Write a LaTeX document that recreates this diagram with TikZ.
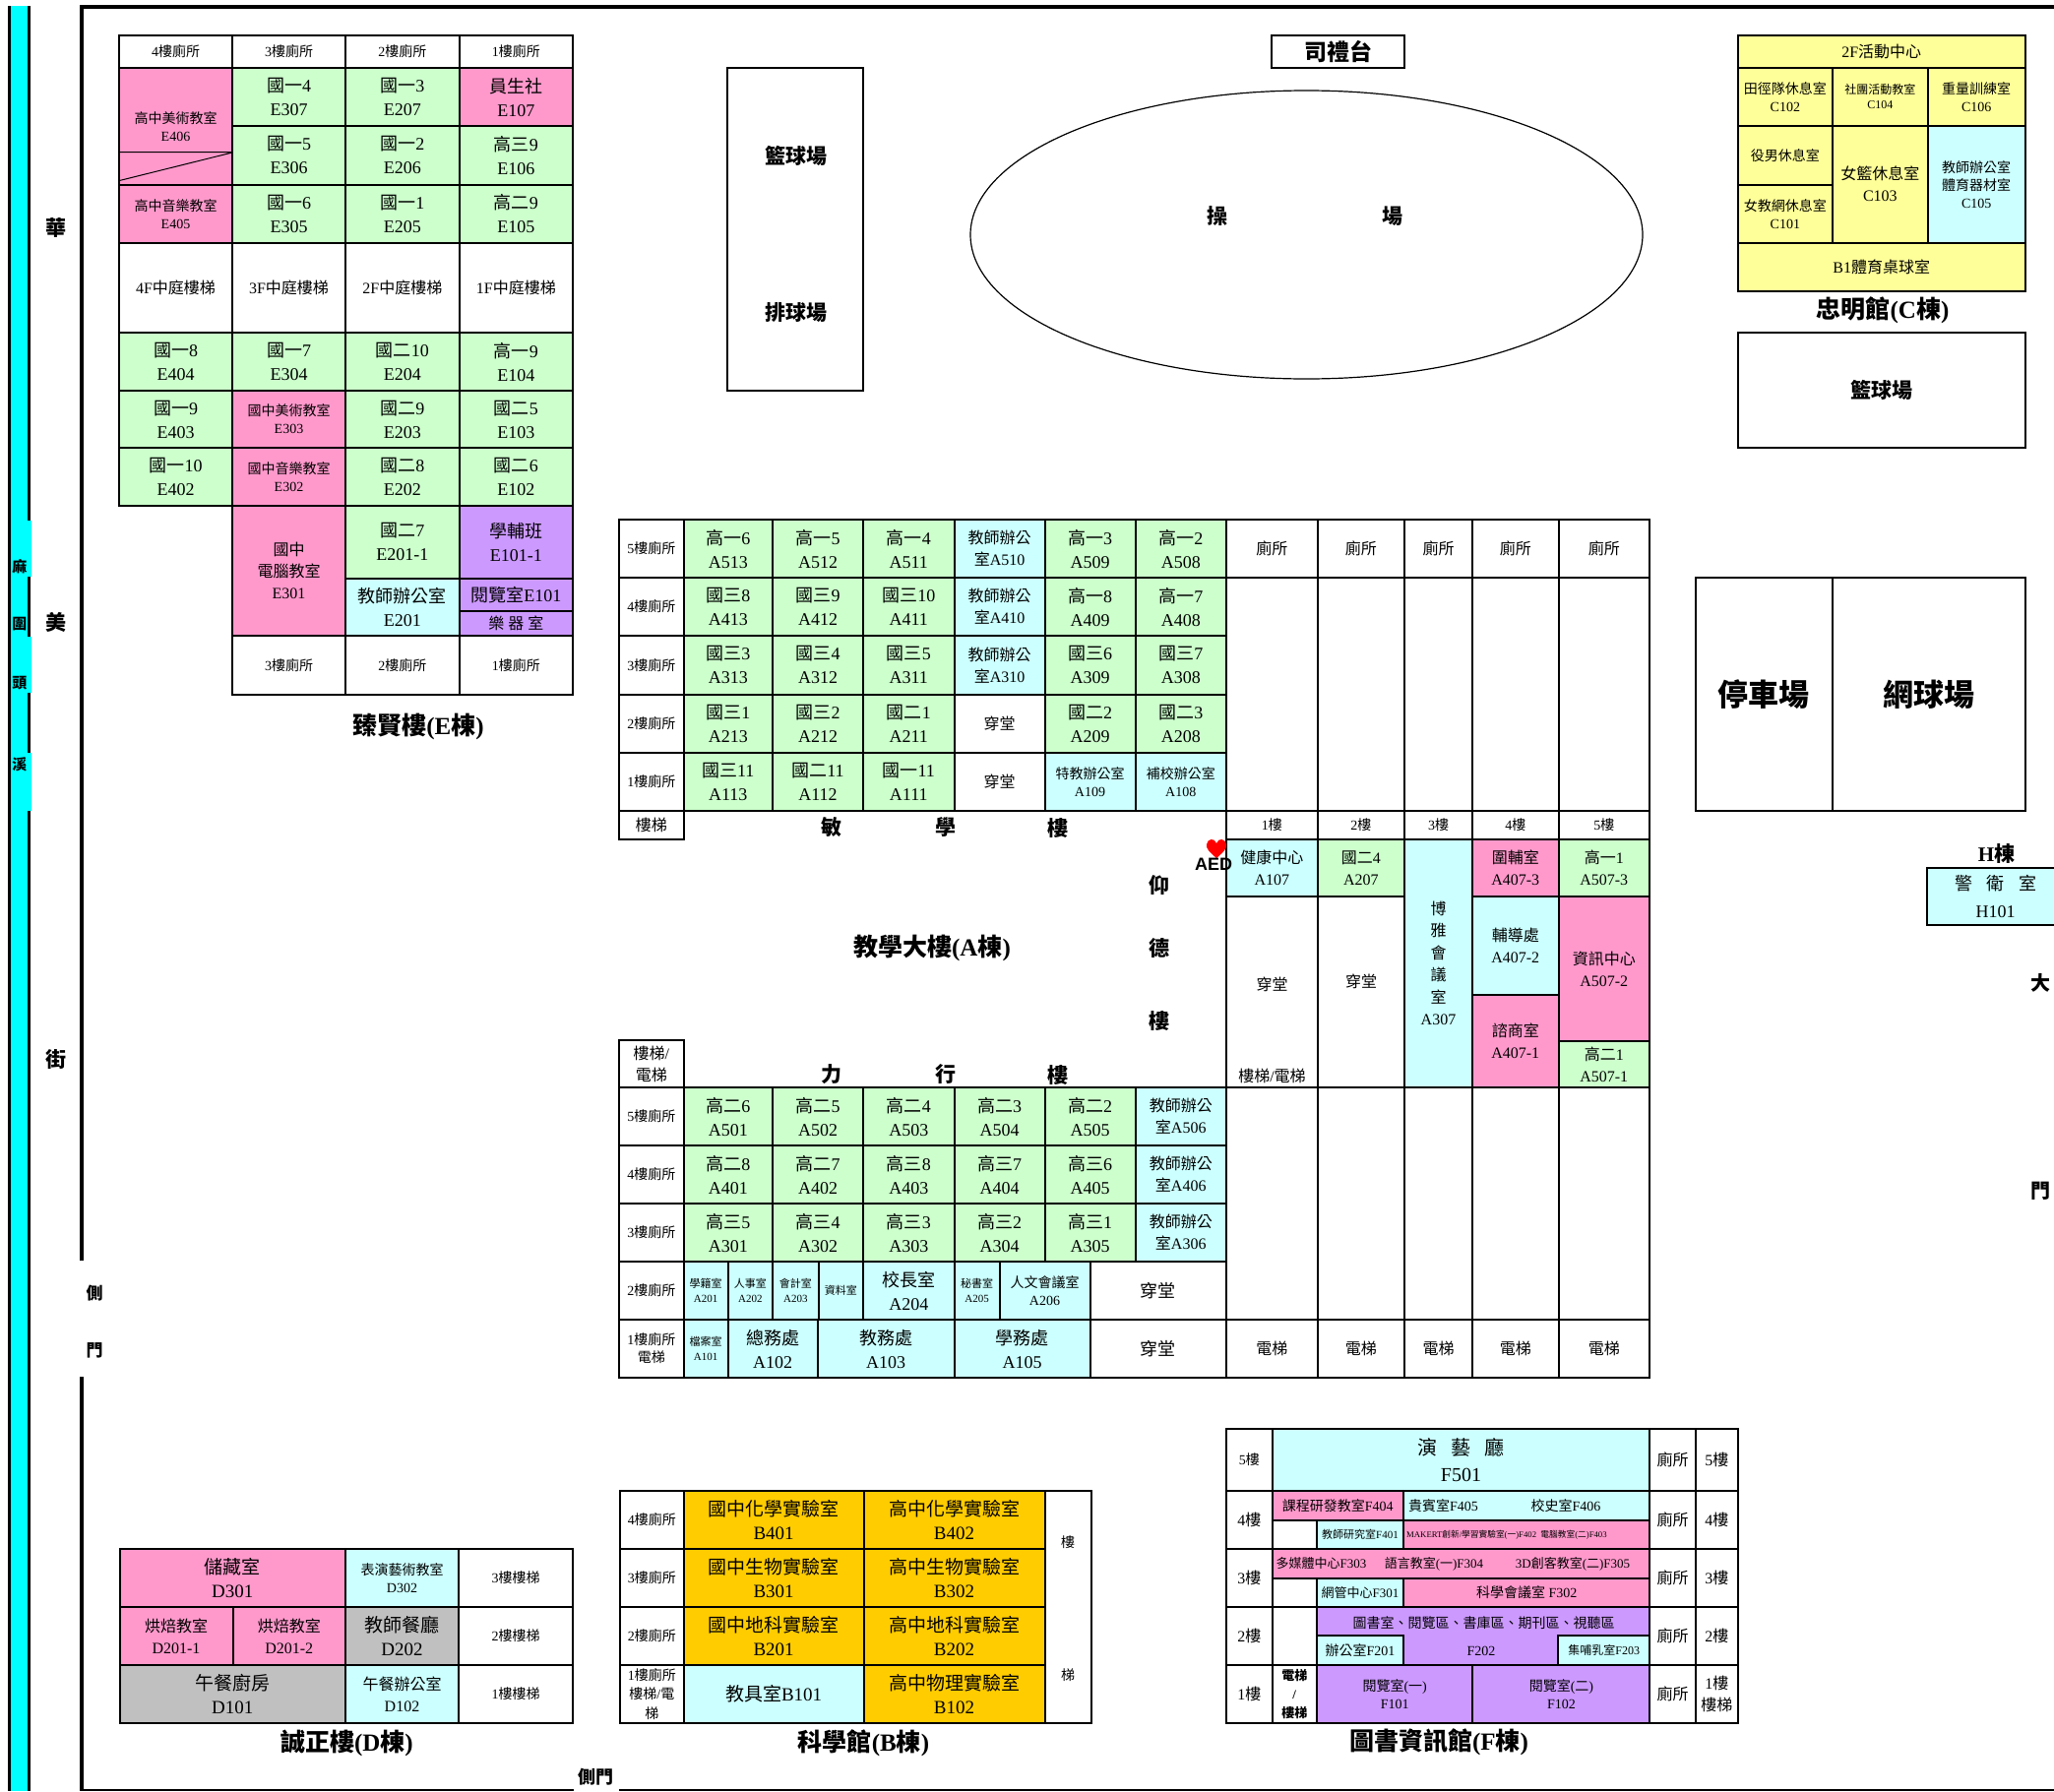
\documentclass[tikz,border=0pt]{standalone}
\usepackage{fontspec}
\usetikzlibrary{shapes.geometric}
\setmainfont{Liberation Serif}
\newfontfamily\cjk{Noto Sans CJK TC}
\newfontfamily\aedfont{Liberation Sans}
% han characters take the cjk family, all others stay in the main one
\makeatletter
\chardef\hanclass=10
\count@="2E80
\loop\ifnum\count@<"A000 \XeTeXcharclass\count@=\hanclass \advance\count@ by 1 \repeat
\makeatother
\XeTeXinterchartoks 0 \hanclass={\cjk}
\XeTeXinterchartoks 4095 \hanclass={\cjk}
\XeTeXinterchartoks \hanclass 0={\rmfamily}
\XeTeXinterchartoks \hanclass 4095={\rmfamily}
\XeTeXinterchartokenstate=1

\definecolor{stream}{HTML}{00FFFF}
\definecolor{roomgreen}{HTML}{CCFFCC}
\definecolor{roomcyan}{HTML}{CCFFFF}
\definecolor{roompink}{HTML}{FF99CC}
\definecolor{roompurple}{HTML}{CC99FF}
\definecolor{roomyellow}{HTML}{FFFF99}
\definecolor{roomorange}{HTML}{FFCC00}
\definecolor{roomgray}{HTML}{C0C0C0}

\tikzset{
    room/.style = {draw, line width = 2pt, fill = white, inner sep = 0pt, outer sep = 0pt, align = center},
    gr/.style = {fill = roomgreen},
    cy/.style = {fill = roomcyan},
    pk/.style = {fill = roompink},
    pu/.style = {fill = roompurple},
    ye/.style = {fill = roomyellow},
    og/.style = {fill = roomorange},
    gy/.style = {fill = roomgray},
    fa/.style = {font = \fontsize{18}{24}\selectfont},
    fb/.style = {font = \fontsize{16}{22}\selectfont},
    fc/.style = {font = \fontsize{14}{18}\selectfont},
    fd/.style = {font = \fontsize{12}{15}\selectfont},
    fe/.style = {font = \fontsize{11}{15}\selectfont},
    fg/.style = {font = \fontsize{19}{24}\selectfont},
    tag/.style = {inner sep = 0pt, align = center},
    titletag/.style = {tag, font = \fontsize{25}{30}\selectfont\bfseries},
    wing/.style = {tag, font = \fontsize{21}{26}\selectfont\bfseries},
    street/.style = {tag, font = \fontsize{17}{20}\selectfont\bfseries},
    wall/.style = {line width = 4pt}
}

% name, x0, y0, x1, y1, styles, text
\newcommand{\room}[7]{
    \node [room, style/.expand once = {#6}, minimum width = {(#4-(#2))*1pt}, minimum height = {(#5-(#3))*1pt}] (#1) at ({(#2+#4)/2}, {(#3+#5)/2}) {#7};
}
% y0, y1, then name/x0/x1/styles/text
\newcommand{\roomrow}[3]{
    \foreach \nm/\xa/\xb/\rs/\txt in {#3} {\room{\nm}{\xa}{#1}{\xb}{#2}{\rs}{\txt}}
}

\begin{document}
\begin{tikzpicture}[x = 1pt, y = -1pt]
    \useasboundingbox (0, 0) rectangle (2087, 1820);

    % stream and walls
    \fill [stream] (10, 6) rectangle (29, 1820);
    \fill [stream] (28, 529) rectangle (32, 586) (28, 647) rectangle (32, 704) (28, 765) rectangle (32, 824);
    \draw [line width = 3pt] (9, 6) -- (9, 1820);
    \draw [line width = 3pt] (29.5, 6) -- (29.5, 529) (29.5, 586) -- (29.5, 647) (29.5, 704) -- (29.5, 765) (29.5, 824) -- (29.5, 1820);
    \draw [wall] (83, 1281) -- (83, 7) -- (2087, 7);
    \draw [wall] (83, 1399) -- (83, 1820);
    \draw [line width = 2pt] (83, 1819) -- (583, 1819) (629, 1819) -- (2087, 1819);
    \node [street, font = \fontsize{15}{18}\selectfont\bfseries] (ma) at (20, 576) {麻};
    \node [street, font = \fontsize{15}{18}\selectfont\bfseries] (wei) at (20, 634) {圍};
    \node [street, font = \fontsize{15}{18}\selectfont\bfseries] (tou) at (20, 694) {頭};
    \node [street, font = \fontsize{15}{18}\selectfont\bfseries] (xi) at (20, 777) {溪};
    \node [street, font = \fontsize{21}{24}\selectfont\bfseries] (hua) at (57, 232) {華};
    \node [street, font = \fontsize{21}{24}\selectfont\bfseries] (mei) at (57, 632) {美};
    \node [street, font = \fontsize{21}{24}\selectfont\bfseries] (jie) at (57, 1077) {街};
    \node [street] (sideA) at (96, 1314) {側};
    \node [street] (sideB) at (96, 1372) {門};
    \node [street, font = \fontsize{18}{20}\selectfont\bfseries] (sideC) at (605, 1806) {側門};
    \node [street, font = \fontsize{20}{22}\selectfont\bfseries] (gateA) at (2073, 999) {大};
    \node [street, font = \fontsize{20}{22}\selectfont\bfseries] (gateB) at (2073, 1210) {門};

    % E
    \roomrow{36}{69}{
        Ewc4/121/236/fc/{4樓廁所}, Ewc3/236/351/fc/{3樓廁所}, Ewc2/351/466.6/fc/{2樓廁所}, Ewc1/466.6/582/fc/{1樓廁所}}
    \room{E406}{121}{69}{236}{187.6}{pk,fc}{高中美術教室\\E406}
    \draw [line width = 1pt] (121, 154.6) -- (236, 154.6) (121, 183.6) -- (236, 155);
    \roomrow{69}{128}{
        E307/236/351/{gr,fa}/{國一4\\E307}, E207/351/466.6/{gr,fa}/{國一3\\E207}, E107/466.6/582/{pk,fa}/{員生社\\E107}}
    \roomrow{128}{187.6}{
        E306/236/351/{gr,fa}/{國一5\\E306}, E206/351/466.6/{gr,fa}/{國一2\\E206}, E106/466.6/582/{gr,fa}/{高三9\\E106}}
    \roomrow{187.6}{246.7}{
        E405/121/236/{pk,fc}/{高中音樂教室\\E405}, E305/236/351/{gr,fa}/{國一6\\E305}, E205/351/466.6/{gr,fa}/{國一1\\E205}, E105/466.6/582/{gr,fa}/{高二9\\E105}}
    \roomrow{246.7}{338}{
        Est4/121/236/fb/{4F中庭樓梯}, Est3/236/351/fb/{3F中庭樓梯}, Est2/351/466.6/fb/{2F中庭樓梯}, Est1/466.6/582/fb/{1F中庭樓梯}}
    \roomrow{338}{397}{
        E404/121/236/{gr,fa}/{國一8\\E404}, E304/236/351/{gr,fa}/{國一7\\E304}, E204/351/466.6/{gr,fa}/{國二10\\E204}, E104/466.6/582/{gr,fa}/{高一9\\E104}}
    \roomrow{397}{455}{
        E403/121/236/{gr,fa}/{國一9\\E403}, E303/236/351/{pk,fc}/{國中美術教室\\E303}, E203/351/466.6/{gr,fa}/{國二9\\E203}, E103/466.6/582/{gr,fa}/{國二5\\E103}}
    \roomrow{455}{514}{
        E402/121/236/{gr,fa}/{國一10\\E402}, E302/236/351/{pk,fc}/{國中音樂教室\\E302}, E202/351/466.6/{gr,fa}/{國二8\\E202}, E102/466.6/582/{gr,fa}/{國二6\\E102}}
    \room{E301}{236}{514}{351}{646}{pk,fb}{國中\\電腦教室\\E301}
    \roomrow{514}{587.5}{
        E201-1/351/466.6/{gr,fa}/{國二7\\E201-1}, E101-1/466.6/582/{pu,fa}/{學輔班\\E101-1}}
    \room{E201}{351}{587.5}{466.6}{646}{cy,fa}{教師辦公室\\E201}
    \room{E101}{466.6}{587.5}{582}{621}{pu,fa}{閱覽室E101}
    \room{Emusic}{466.6}{621}{582}{646}{pu,fb}{樂 器 室}
    \roomrow{646}{706}{
        Ewd3/236/351/fc/{3樓廁所}, Ewd2/351/466.6/fc/{2樓廁所}, Ewd1/466.6/582/fc/{1樓廁所}}
    \node [titletag] (titleE) at (425, 738) {臻賢樓(E棟)};

    % courts
    \room{courtA}{739}{69}{877}{397}{}{}
    \node [wing] (courtB) at (809, 158) {籃球場};
    \node [wing] (courtC) at (809, 318) {排球場};
    \room{stage}{1292}{36}{1427}{69}{font = \fontsize{23}{26}\selectfont\bfseries}{司禮台}
    \node [draw, line width = 1.2pt, ellipse, minimum width = 683pt, minimum height = 293pt, inner sep = 0pt] (field) at (1327.5, 238.5) {};
    \node [wing] (fieldA) at (1236.5, 220) {操};
    \node [wing] (fieldB) at (1415, 220) {場};
    \room{courtD}{1766}{338}{2058}{455}{wing, draw, fill = white}{籃球場}
    \room{parking}{1722.6}{587}{1862}{824}{font = \fontsize{31}{34}\selectfont\bfseries}{停車場}
    \room{tennis}{1862}{587}{2058}{824}{font = \fontsize{31}{34}\selectfont\bfseries}{網球場}

    % C
    \room{C2F}{1765.7}{35.7}{2057.7}{69}{ye,fb}{2F活動中心}
    \room{C102}{1765.7}{69}{1862}{127.7}{ye,fc}{田徑隊休息室\\C102}
    \room{C104}{1862}{69}{1958.7}{127.7}{ye,fd}{社團活動教室\\C104}
    \room{C106}{1958.7}{69}{2057.7}{127.7}{ye,fc}{重量訓練室\\C106}
    \room{Cmale}{1765.7}{127.7}{1862}{187.7}{ye,fc}{役男休息室}
    \room{C101}{1765.7}{187.7}{1862}{246.7}{ye,fc}{女教網休息室\\C101}
    \room{C103}{1862}{127.7}{1958.7}{246.7}{ye,fb}{女籃休息室\\C103}
    \room{C105}{1958.7}{127.7}{2057.7}{246.7}{cy,fc}{教師辦公室\\體育器材室\\C105}
    \room{CB1}{1765.7}{246.7}{2057.7}{295.7}{ye,fb}{B1體育桌球室}
    \node [titletag] (titleC) at (1913, 315) {忠明館(C棟)};

    % A, upper wing
    \roomrow{528}{587}{
        Awa5/629/694.6/fc/{5樓廁所}, A513/694.6/785/{gr,fa}/{高一6\\A513}, A512/785/877/{gr,fa}/{高一5\\A512}, A511/877/969.6/{gr,fa}/{高一4\\A511}, A510/969.6/1061.5/{cy,fb}/{教師辦公\\室A510}, A509/1061.5/1153.5/{gr,fa}/{高一3\\A509}, A508/1153.5/1246/{gr,fa}/{高一2\\A508},
        Awc1/1246/1338.6/fb/{廁所}, Awc2/1338.6/1427/fb/{廁所}, Awc3/1427/1496/fb/{廁所}, Awc4/1496/1583.5/fb/{廁所}, Awc5/1583.5/1676/fb/{廁所}}
    \roomrow{587}{646}{
        Awa4/629/694.6/fc/{4樓廁所}, A413/694.6/785/{gr,fa}/{國三8\\A413}, A412/785/877/{gr,fa}/{國三9\\A412}, A411/877/969.6/{gr,fa}/{國三10\\A411}, A410/969.6/1061.5/{cy,fb}/{教師辦公\\室A410}, A409/1061.5/1153.5/{gr,fa}/{高一8\\A409}, A408/1153.5/1246/{gr,fa}/{高一7\\A408}}
    \roomrow{646}{705.7}{
        Awa3/629/694.6/fc/{3樓廁所}, A313/694.6/785/{gr,fa}/{國三3\\A313}, A312/785/877/{gr,fa}/{國三4\\A312}, A311/877/969.6/{gr,fa}/{國三5\\A311}, A310/969.6/1061.5/{cy,fb}/{教師辦公\\室A310}, A309/1061.5/1153.5/{gr,fa}/{國三6\\A309}, A308/1153.5/1246/{gr,fa}/{國三7\\A308}}
    \roomrow{705.7}{765}{
        Awa2/629/694.6/fc/{2樓廁所}, A213/694.6/785/{gr,fa}/{國三1\\A213}, A212/785/877/{gr,fa}/{國三2\\A212}, A211/877/969.6/{gr,fa}/{國二1\\A211}, Ahall2/969.6/1061.5/fb/{穿堂}, A209/1061.5/1153.5/{gr,fa}/{國二2\\A209}, A208/1153.5/1246/{gr,fa}/{國二3\\A208}}
    \roomrow{765}{824}{
        Awa1/629/694.6/fc/{1樓廁所}, A113/694.6/785/{gr,fa}/{國三11\\A113}, A112/785/877/{gr,fa}/{國二11\\A112}, A111/877/969.6/{gr,fa}/{國一11\\A111}, Ahall1/969.6/1061.5/fb/{穿堂}, A109/1061.5/1153.5/{cy,fc}/{特教辦公室\\A109}, A108/1153.5/1246/{cy,fc}/{補校辦公室\\A108}}
    \room{Astair}{629}{824}{694.6}{853}{fb}{樓梯}
    \roomrow{587}{824}{
        Ablank1/1246/1338.6/fb/{}, Ablank2/1338.6/1427/fb/{}, Ablank3/1427/1496/fb/{}, Ablank4/1496/1583.5/fb/{}, Ablank5/1583.5/1676/fb/{}}

    % A, right wing
    \roomrow{824}{853}{
        Afl1/1246/1338.6/fc/{1樓}, Afl2/1338.6/1427/fc/{2樓}, Afl3/1427/1496/fc/{3樓}, Afl4/1496/1583.5/fc/{4樓}, Afl5/1583.5/1676/fc/{5樓}}
    \roomrow{853}{911}{
        A107/1246/1338.6/{cy,fb}/{健康中心\\A107}, A207/1338.6/1427/{gr,fb}/{國二4\\A207}, A407-3/1496/1583.5/{pk,fb}/{圍輔室\\A407-3}, A507-3/1583.5/1676/{gr,fb}/{高一1\\A507-3}}
    \roomrow{911}{1105}{
        Ahall3/1246/1338.6/fb/{}, Ahall4/1338.6/1427/fb/{}}
    \node [tag, font = \fontsize{16}{22}\selectfont] (Ahall3t) at (1292.5, 1000) {穿堂};
    \node [tag, font = \fontsize{16}{22}\selectfont] (Ahall4t) at (1383, 997) {穿堂};
    \node [tag, font = \fontsize{16}{22}\selectfont] (Astair2) at (1292.5, 1093) {樓梯/電梯};
    \room{A307}{1427}{853}{1496}{1105}{cy,fb,font = \fontsize{16}{22.5}\selectfont}{博\\雅\\會\\議\\室\\A307}
    \room{A407-2}{1496}{911}{1583.5}{1010.5}{cy,fb}{輔導處\\A407-2}
    \room{A407-1}{1496}{1010.5}{1583.5}{1105}{pk,fb}{諮商室\\A407-1}
    \room{A507-2}{1583.5}{911}{1676}{1058}{pk,fb}{資訊中心\\A507-2}
    \room{A507-1}{1583.5}{1058}{1676}{1105}{gr,fb}{高二1\\A507-1}

    \node [wing] (minA) at (845.4, 841) {敏};
    \node [wing] (minB) at (960.6, 841) {學};
    \node [wing] (minC) at (1075, 841) {樓};
    \node [titletag] (titleA) at (947, 963) {教學大樓(A棟)};
    \node [wing] (yangA) at (1177.6, 899.5) {仰};
    \node [wing] (yangB) at (1177.6, 963) {德};
    \node [wing] (yangC) at (1177.6, 1037) {樓};
    \node [wing] (liA) at (845.4, 1092) {力};
    \node [wing] (liB) at (960.6, 1092) {行};
    \node [wing] (liC) at (1075, 1092) {樓};
    \fill [red] (1236, 872) .. controls (1229, 866) and (1225, 862) .. (1226, 858) .. controls (1227, 852) and (1234, 851) .. (1236, 857) .. controls (1238, 851) and (1245, 852) .. (1246, 858) .. controls (1247, 862) and (1243, 866) .. cycle;
    \node [tag, font = \fontsize{18}{20}\selectfont\aedfont\bfseries] (aed) at (1233, 878) {AED};

    % A, lower wing
    \room{Astair3}{629}{1057}{694.6}{1105}{fb}{樓梯/\\電梯}
    \roomrow{1105}{1164}{
        Awb5/629/694.6/fc/{5樓廁所}, A501/694.6/785/{gr,fa}/{高二6\\A501}, A502/785/877/{gr,fa}/{高二5\\A502}, A503/877/969.6/{gr,fa}/{高二4\\A503}, A504/969.6/1061.5/{gr,fa}/{高二3\\A504}, A505/1061.5/1153.5/{gr,fa}/{高二2\\A505}, A506/1153.5/1246/{cy,fb}/{教師辦公\\室A506}}
    \roomrow{1164}{1223}{
        Awb4/629/694.6/fc/{4樓廁所}, A401/694.6/785/{gr,fa}/{高二8\\A401}, A402/785/877/{gr,fa}/{高二7\\A402}, A403/877/969.6/{gr,fa}/{高三8\\A403}, A404/969.6/1061.5/{gr,fa}/{高三7\\A404}, A405/1061.5/1153.5/{gr,fa}/{高三6\\A405}, A406/1153.5/1246/{cy,fb}/{教師辦公\\室A406}}
    \roomrow{1223}{1282}{
        Awb3/629/694.6/fc/{3樓廁所}, A301/694.6/785/{gr,fa}/{高三5\\A301}, A302/785/877/{gr,fa}/{高三4\\A302}, A303/877/969.6/{gr,fa}/{高三3\\A303}, A304/969.6/1061.5/{gr,fa}/{高三2\\A304}, A305/1061.5/1153.5/{gr,fa}/{高三1\\A305}, A306/1153.5/1246/{cy,fb}/{教師辦公\\室A306}}
    \roomrow{1282}{1341}{
        Awb2/629/694.6/fc/{2樓廁所}, A201/694.6/739.6/{cy,fe}/{學籍室\\A201}, A202/739.6/785/{cy,fe}/{人事室\\A202}, A203/785/831.6/{cy,fe}/{會計室\\A203}, Adata/831.6/877/{cy,fe}/{資料室}, A204/877/969.6/{cy,fa}/{校長室\\A204}, A205/969.6/1015.5/{cy,fe}/{秘書室\\A205}, A206/1015.5/1107.5/{cy,fc}/{人文會議室\\A206}, Ahall5/1107.5/1246/fa/{穿堂}}
    \roomrow{1341}{1400}{
        Awb1/629/694.6/fc/{1樓廁所\\電梯}, A101/694.6/739.6/{cy,fe}/{檔案室\\A101}, A102/739.6/830.7/{cy,fa}/{總務處\\A102}, A103/830.7/969.6/{cy,fa}/{教務處\\A103}, A105/969.6/1107.5/{cy,fa}/{學務處\\A105}, Ahall6/1107.5/1246/fa/{穿堂},
        Alift1/1246/1338.6/fb/{電梯}, Alift2/1338.6/1427/fb/{電梯}, Alift3/1427/1496/fb/{電梯}, Alift4/1496/1583.5/fb/{電梯}, Alift5/1583.5/1676/fb/{電梯}}
    \roomrow{1105}{1341}{
        Ablank6/1246/1338.6/fb/{}, Ablank7/1338.6/1427/fb/{}, Ablank8/1427/1496/fb/{}, Ablank9/1496/1583.5/fb/{}, Ablank10/1583.5/1676/fb/{}}

    % H
    \node [wing] (titleH) at (2028.6, 868) {H棟};
    \fill [roomcyan] (1958, 882) rectangle (2087, 940);
    \draw [line width = 2pt] (2087, 882) -- (1958, 882) -- (1958, 940) -- (2087, 940);
    \node [tag, font = \fontsize{18}{28}\selectfont] (H101) at (2027.5, 911) {警 \hspace{10pt}衛 \hspace{10pt}室\\H101};

    % D
    \roomrow{1574}{1633}{
        D301/121.5/351/{pk,fg}/{儲藏室\\D301}, D302/351/466/{cy,fc}/{表演藝術教室\\D302}, Dst3/466/582/fc/{3樓樓梯}}
    \roomrow{1633}{1692}{
        D201-1/121.5/236.6/{pk,fb}/{烘焙教室\\D201-1}, D201-2/236.6/351/{pk,fb}/{烘焙教室\\D201-2}, D202/351/466/{gy,fg}/{教師餐廳\\D202}, Dst2/466/582/fc/{2樓樓梯}}
    \roomrow{1692}{1750.7}{
        D101/121.5/351/{gy,fg}/{午餐廚房\\D101}, D102/351/466/{cy,fb}/{午餐辦公室\\D102}, Dst1/466/582/fc/{1樓樓梯}}
    \node [titletag] (titleD) at (352.4, 1771) {誠正樓(D棟)};

    % B
    \roomrow{1515}{1574}{
        Bwc4/630/694.7/fc/{4樓廁所}, B401/694.7/877.5/{og,fg}/{國中化學實驗室\\B401}, B402/877.5/1061.6/{og,fg}/{高中化學實驗室\\B402}}
    \roomrow{1574}{1633}{
        Bwc3/630/694.7/fc/{3樓廁所}, B301/694.7/877.5/{og,fg}/{國中生物實驗室\\B301}, B302/877.5/1061.6/{og,fg}/{高中生物實驗室\\B302}}
    \roomrow{1633}{1692}{
        Bwc2/630/694.7/fc/{2樓廁所}, B201/694.7/877.5/{og,fg}/{國中地科實驗室\\B201}, B202/877.5/1061.6/{og,fg}/{高中地科實驗室\\B202}}
    \roomrow{1692}{1750.7}{
        Bwc1/630/694.7/{fc,font = \fontsize{14}{19.5}\selectfont}/{1樓廁所\\樓梯/電\\梯}, B101/694.7/877.5/{cy,fg}/{教具室B101}, B102/877.5/1061.6/{og,fg}/{高中物理實驗室\\B102}}
    \room{Bstair}{1061.6}{1515}{1108.5}{1750.7}{fc}{}
    \node [tag, font = \fontsize{14}{18}\selectfont] (BstairA) at (1085, 1566.7) {樓};
    \node [tag, font = \fontsize{14}{18}\selectfont] (BstairB) at (1085, 1701.7) {梯};
    \node [titletag] (titleB) at (877.5, 1771) {科學館(B棟)};

    % F
    \roomrow{1452}{1515}{
        Ffl5/1246.4/1292.5/fc/{5樓}, F501/1292.5/1676.4/{cy,font = \fontsize{20}{27}\selectfont}/{演 \hspace{9pt}藝 \hspace{9pt}廳\\F501}, Fwc5/1676.4/1723/fb/{廁所}, Fr5/1723/1765.7/fb/{5樓}}
    \roomrow{1515}{1573.7}{
        Ffl4/1246.4/1292.5/fb/{4樓}, Fwc4/1676.4/1723/fb/{廁所}, Fr4/1723/1765.7/fb/{4樓}}
    \roomrow{1573.7}{1632.7}{
        Ffl3/1246.4/1292.5/fb/{3樓}, Fwc3/1676.4/1723/fb/{廁所}, Fr3/1723/1765.7/fb/{3樓}}
    \roomrow{1632.7}{1691.7}{
        Ffl2/1246.4/1292.5/fb/{2樓}, Fblank2/1292.5/1338/fb/{}, Fwc2/1676.4/1723/fb/{廁所}, Fr2/1723/1765.7/fb/{2樓}}
    \roomrow{1691.7}{1750.7}{
        Ffl1/1246.4/1292.5/fb/{1樓}, Flift/1292.5/1338/{font = \fontsize{13}{19}\selectfont\bfseries}/{電梯\\/\\樓梯}, F101/1338/1496.4/{pu,fc}/{閱覽室(一)\\F101}, F102/1496.4/1676.4/{pu,fc}/{閱覽室(二)\\F102}, Fwc1/1676.4/1723/fb/{廁所}, Fr1/1723/1765.7/fb/{1樓\\樓梯}}
    \room{F404}{1292.5}{1515}{1426}{1545}{pk,fc}{課程研發教室F404}
    \room{F405}{1426}{1515}{1676.4}{1545}{cy}{}
    \node [tag, font = \fontsize{14}{18}\selectfont] (F405t) at (1466.4, 1530) {貴賓室F405};
    \node [tag, font = \fontsize{14}{18}\selectfont] (F406t) at (1591, 1530) {校史室F406};
    \room{Fblank4}{1292.5}{1545}{1338}{1573.7}{}{}
    \room{F401}{1338}{1545}{1426}{1573.7}{cy,fe}{教師研究室F401}
    \room{F402}{1426}{1545}{1676.4}{1573.7}{pk}{}
    \node [tag, anchor = west, font = \fontsize{8.7}{10}\selectfont] (F402t) at (1429, 1560) {MAKERT創新/學習實驗室(一)F402\ \ 電腦教室(二)F403};
    \room{F303}{1292.5}{1573.7}{1676.4}{1603.7}{pk}{}
    \node [tag, font = \fontsize{13}{16}\selectfont] (F303t) at (1342.5, 1589) {多媒體中心F303};
    \node [tag, font = \fontsize{13}{16}\selectfont] (F304t) at (1457, 1589) {語言教室(一)F304};
    \node [tag, font = \fontsize{13}{16}\selectfont] (F305t) at (1598, 1589) {3D創客教室(二)F305};
    \room{Fblank3}{1292.5}{1603.7}{1338}{1632.7}{}{}
    \room{F301}{1338}{1603.7}{1426}{1632.7}{cy,font = \fontsize{13}{16}\selectfont}{網管中心F301}
    \room{F302}{1426}{1603.7}{1676.4}{1632.7}{pk,fc}{科學會議室 F302}
    \room{F202}{1338}{1632.7}{1676.4}{1691.7}{pu}{}
    \node [tag, font = \fontsize{14}{18}\selectfont] (F202a) at (1507.5, 1649) {圖書室、閱覽區、書庫區、期刊區、視聽區};
    \node [tag, font = \fontsize{14}{18}\selectfont] (F202b) at (1505, 1678) {F202};
    \room{F201}{1338}{1662}{1426}{1691.7}{cy,fc}{辦公室F201}
    \room{F203}{1583}{1662}{1676.4}{1691.7}{cy,fd}{集哺乳室F203}
    \node [titletag] (titleF) at (1462, 1770) {圖書資訊館(F棟)};
\end{tikzpicture}
\end{document}
